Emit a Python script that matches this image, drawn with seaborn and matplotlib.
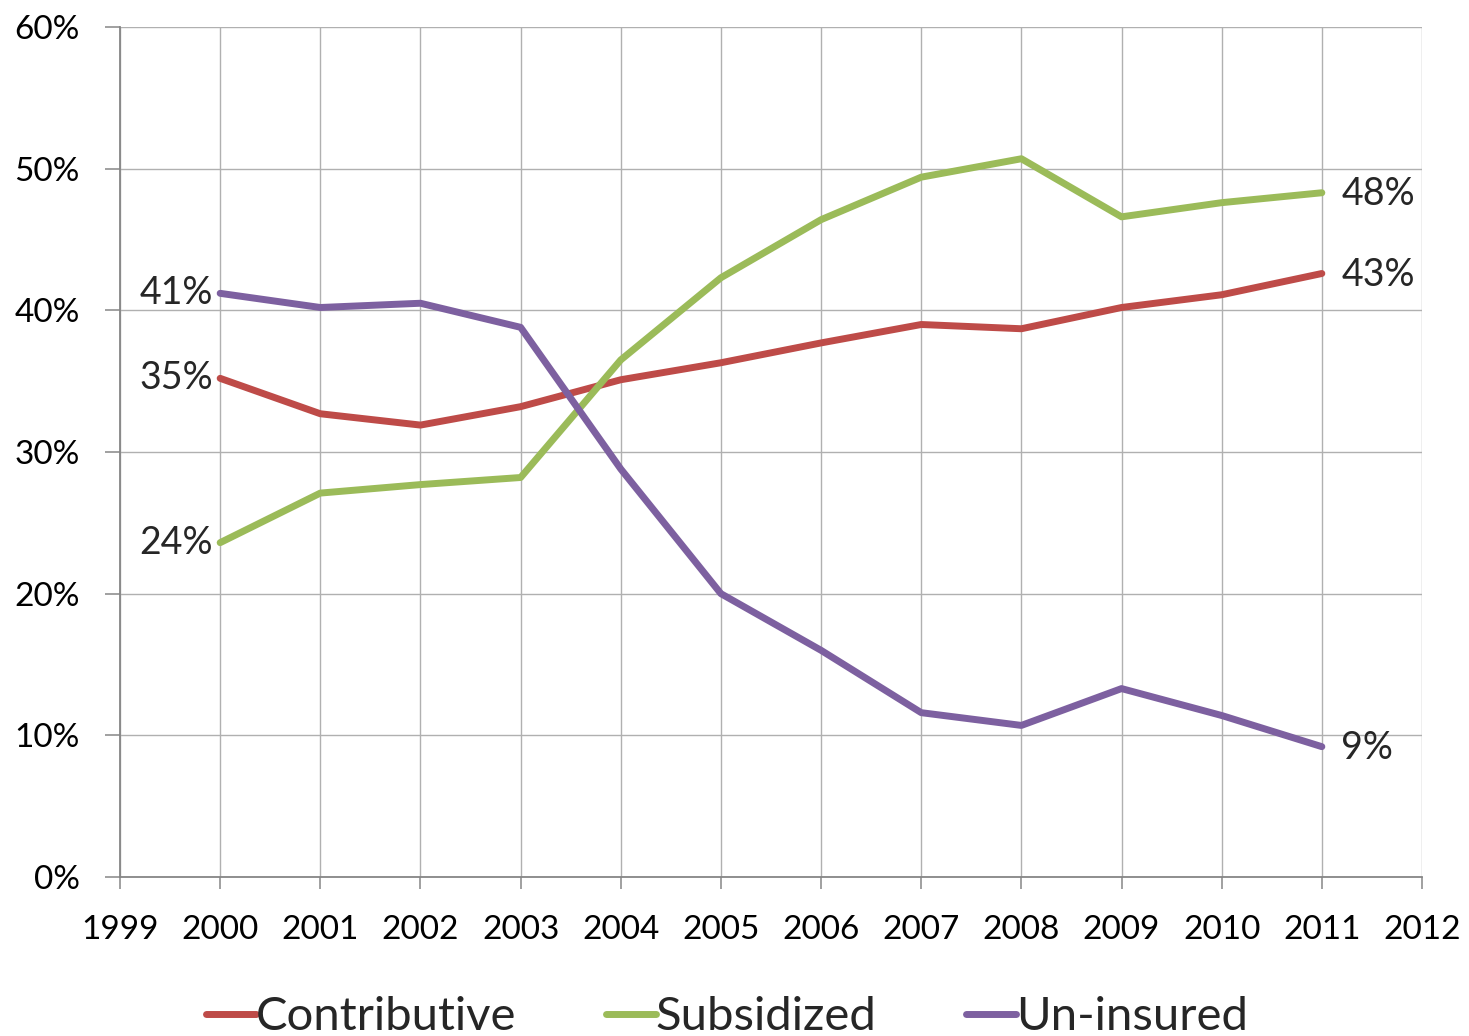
import matplotlib
matplotlib.use("Agg")
import matplotlib.pyplot as plt
import numpy as np
import pandas as pd
import seaborn as sns
from matplotlib.ticker import PercentFormatter

# data (share of population, %)
years = [2000, 2001, 2002, 2003, 2004, 2005, 2006, 2007, 2008, 2009, 2010, 2011]
contributive = [35.2, 32.7, 31.9, 33.2, 35.1, 36.3, 37.7, 39.0, 38.7, 40.2, 41.1, 42.6]
subsidized = [23.6, 27.1, 27.7, 28.2, 36.5, 42.3, 46.4, 49.4, 50.7, 46.6, 47.6, 48.3]
uninsured = [41.2, 40.2, 40.5, 38.8, 28.8, 20.0, 16.0, 11.6, 10.7, 13.3, 11.4, 9.2]

series_names = ["Contributive", "Subsidized", "Un-insured"]
colors = ["#be4b48", "#9bbb59", "#7d60a0"]
x_ticks = list(range(1999, 2013))
y_ticks = [0, 10, 20, 30, 40, 50, 60]

df = pd.DataFrame({
    "year": years * 3,
    "value": contributive + subsidized + uninsured,
    "series": np.repeat(series_names, len(years)),
})

sns.set_theme(style="whitegrid")
plt.rcParams["font.family"] = ["Lato", "DejaVu Sans"]

GRID = "#b0b0b0"
SPINE = "#868686"

fig = plt.figure(figsize=(14.69, 10.36), dpi=100)
ax = fig.add_axes([120 / 1469, 1 - 877 / 1036, 1302 / 1469, 850 / 1036])

sns.lineplot(data=df, x="year", y="value", hue="series", hue_order=series_names,
             palette=colors, linewidth=5, ax=ax, legend=False,
             solid_capstyle="round", solid_joinstyle="round")

ax.set_xlim(1999, 2012)
ax.set_ylim(0, 60)
ax.set_xticks(x_ticks)
ax.set_yticks(y_ticks)
ax.yaxis.set_major_formatter(PercentFormatter(decimals=0))
ax.set_xlabel("")
ax.set_ylabel("")

ax.grid(True, color=GRID, linewidth=1.0)
ax.set_axisbelow(True)
for s in ["top", "right"]:
    ax.spines[s].set_visible(False)
for s in ["left", "bottom"]:
    ax.spines[s].set_color(SPINE)
    ax.spines[s].set_linewidth(1.3)

ax.tick_params(axis="y", direction="out", length=11, width=1.1, color=SPINE,
               pad=18, labelsize=24, labelcolor="black", left=True)
ax.tick_params(axis="x", direction="out", length=8.5, width=1.1, color=SPINE,
               pad=19, labelsize=24, labelcolor="black", bottom=True)

# end-point labels
for vals in [contributive, subsidized, uninsured]:
    ax.annotate(f"{round(vals[0])}%", (years[0], vals[0]), xytext=(-5, 0),
                textcoords="offset points", ha="right", va="center", fontsize=27)
    ax.annotate(f"{round(vals[-1])}%", (years[-1], vals[-1]), xytext=(14, -1),
                textcoords="offset points", ha="left", va="center", fontsize=27)

handles = [plt.Line2D([], [], color=c, linewidth=5, solid_capstyle="round") for c in colors]
fig.legend(handles, series_names, loc="center", bbox_to_anchor=(0.495, 0.018),
           ncol=3, frameon=False, fontsize=34, handlelength=1.05,
           handletextpad=0.0, columnspacing=1.9, borderpad=0)

fig.savefig("out.png", dpi=100)
